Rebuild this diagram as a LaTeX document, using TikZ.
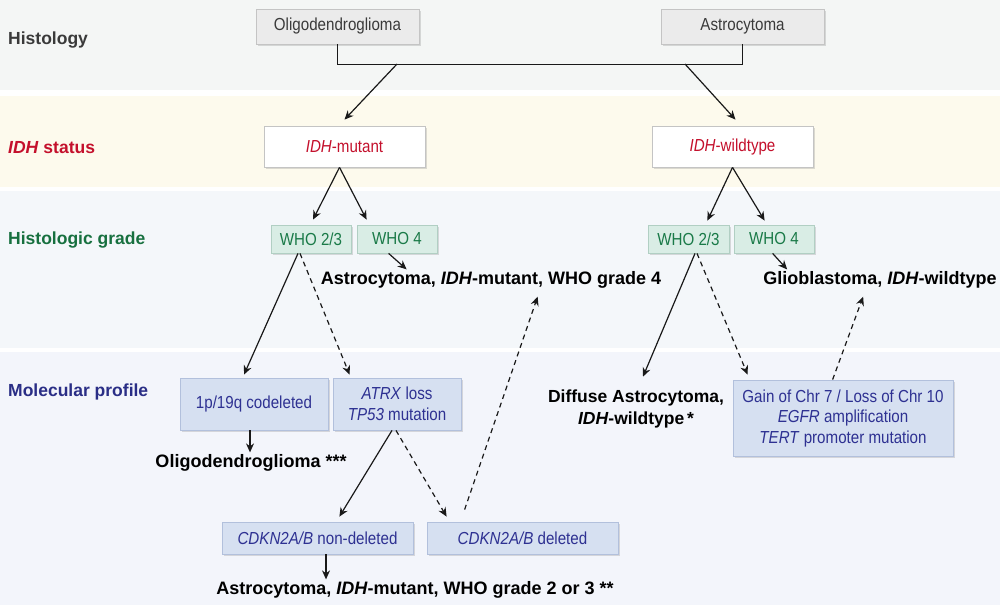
\documentclass[tikz,border=0pt]{standalone}
\usepackage{fontspec}
\setmainfont{Liberation Sans}
\newfontfamily\nfont{Liberation Sans}[FakeStretch=0.87]
\usetikzlibrary{arrows.meta,shadows,calc}
\definecolor{bandA}{HTML}{F4F6F5}
\definecolor{bandB}{HTML}{FDFAED}
\definecolor{bandC}{HTML}{F4F7FA}
\definecolor{bandD}{HTML}{F3F5FB}
\definecolor{lblgray}{HTML}{3A3A3A}
\definecolor{idhred}{HTML}{C4102C}
\definecolor{grgreen}{HTML}{17703F}
\definecolor{molblue}{HTML}{2A2E86}
\definecolor{txtblue}{HTML}{2E3192}
\definecolor{graybox}{HTML}{EBEBEB}
\definecolor{grayedge}{HTML}{C4C4C4}
\definecolor{greenbox}{HTML}{D9EDE5}
\definecolor{greenedge}{HTML}{B1CFC3}
\definecolor{greentxt}{HTML}{1A7A48}
\definecolor{bluebox}{HTML}{D6E0F1}
\definecolor{blueedge}{HTML}{B2C0DC}
\tikzset{
  shad/.style={drop shadow={shadow xshift=1.5pt,shadow yshift=-1.5pt,opacity=0.22,fill=black!60}},
  boxbase/.style={draw, line width=0.8pt, inner sep=0pt, align=center, shad,
    font=\nfont\fontsize{17.4}{20.5}\selectfont},
  histbox/.style={boxbase, fill=graybox, draw=grayedge, text=lblgray, minimum width=163pt, minimum height=35pt},
  idhbox/.style={boxbase, fill=white, draw=grayedge, text=idhred, minimum width=161pt, minimum height=41pt},
  gradebox/.style={boxbase, fill=greenbox, draw=greenedge, text=greentxt, minimum width=80pt, minimum height=28pt},
  molbox/.style={boxbase, fill=bluebox, draw=blueedge, text=txtblue},
  bigtxt/.style={inner sep=0pt, align=center, font=\bfseries\fontsize{18}{22}\selectfont, text=black},
  rowlbl/.style={inner sep=0pt, anchor=west, font=\bfseries\fontsize{17.5}{21}\selectfont},
  arr/.style={line width=1.2pt, draw=black!90, -{Stealth[length=9pt,width=8pt]}},
  darr/.style={arr, dash pattern=on 5pt off 4pt},
  con/.style={line width=1.2pt, draw=black!90}
}
\begin{document}
\begin{tikzpicture}[x=1pt,y=-1pt]
\useasboundingbox (0,0) rectangle (1000,605);
\fill[white] (0,0) rectangle (1000,605);
% bands
\fill[bandA] (0,0) rectangle (1000,90);
\fill[bandB] (0,96) rectangle (1000,187);
\fill[bandC] (0,191) rectangle (1000,348);
\fill[bandD] (0,352) rectangle (1000,605);
% row labels
\node[rowlbl, text=lblgray] (lhist) at (8,40) {Histology};
\node[rowlbl, text=idhred] (lidh) at (8,148) {\textit{IDH} status};
\node[rowlbl, text=grgreen] (lgrade) at (8,240) {Histologic grade};
\node[rowlbl, text=molblue] (lmol) at (8,392) {Molecular profile};
% histology
\node[histbox] (oligo) at (337.5,26.5) {Oligodendroglioma};
\node[histbox] (astro) at (742.5,26.5) {Astrocytoma};
% IDH
\node[idhbox] (mut) at (344.5,146.5) {\textit{IDH}-mutant};
\node[idhbox] (wt) at (732.5,146.5) {\textit{IDH}-wildtype};
% grade
\node[gradebox] (w23l) at (311,239) {WHO 2/3};
\node[gradebox] (w4l) at (397,239) {WHO 4};
\node[gradebox, minimum width=81pt] (w23r) at (688.5,239) {WHO 2/3};
\node[gradebox] (w4r) at (774,239) {WHO 4};
\node[bigtxt] (a4) at (491,280) {Astrocytoma, \textit{IDH}-mutant, WHO grade 4};
\node[bigtxt] (gbm) at (880,280) {Glioblastoma, \textit{IDH}-wildtype};
% molecular
\node[molbox, minimum width=148pt, minimum height=52pt] (p19) at (254,404) {1p/19q codeleted};
\node[molbox, minimum width=128pt, minimum height=52pt] (atrx) at (397,404) {\textit{ATRX} loss\\\textit{TP53} mutation};
\node[bigtxt, font=\bfseries\fontsize{17.5}{22}\selectfont] (dawt) at (636,409) {Diffuse Astrocytoma,\\\textit{IDH}-wildtype\,*};
\node[molbox, minimum width=220pt, minimum height=76pt] (gain) at (843,418) {Gain of Chr 7 / Loss of Chr 10\\\textit{EGFR} amplification\\\textit{TERT} promoter mutation};
\node[bigtxt] (oligt) at (251,463) {Oligodendroglioma ***};
\node[molbox, minimum width=191pt, minimum height=32pt] (cnd) at (317.5,538) {\textit{CDKN2A/B} non-deleted};
\node[molbox, minimum width=191pt, minimum height=32pt] (cd) at (522.5,538) {\textit{CDKN2A/B} deleted};
\node[bigtxt] (a23) at (415,590) {Astrocytoma, \textit{IDH}-mutant, WHO grade 2 or 3 **};
% histology connector
\coordinate (jl) at (397,64);
\coordinate (jr) at (685,64);
\draw[con] (oligo.south) -- ++(0,20) -| (astro.south);
\draw[arr] (jl) -- ([yshift=6pt]mut.north);
\draw[arr] (jr) -- ([xshift=3pt,yshift=6pt]wt.north);
% IDH to grade
\draw[arr] ([xshift=-5pt]mut.south) -- ([xshift=2pt,yshift=5pt]w23l.north);
\draw[arr] ([xshift=-5pt]mut.south) -- ([xshift=10pt,yshift=5pt]w4l.north west);
\draw[arr] (wt.south) -- ([xshift=-22pt,yshift=4pt]w23r.north east);
\draw[arr] (wt.south) -- ([xshift=31pt,yshift=4pt]w4r.north west);
% grade 4 outcomes
\draw[arr] ([xshift=32pt]w4l.south west) -- ([xshift=86pt,yshift=2pt]a4.north west);
\draw[arr] ([xshift=39pt]w4r.south west) -- ([xshift=24pt,yshift=2pt]gbm.north west);
% grade 2/3 to molecular
\draw[arr] ([xshift=-13pt]w23l.south) -- ([xshift=-10pt,yshift=3pt]p19.north);
\draw[darr] ([xshift=-11pt]w23l.south) -- ([xshift=17pt,yshift=3pt]atrx.north west);
\draw[arr] ([xshift=6.5pt]w23r.south) -- ([xshift=7pt,yshift=13pt]dawt.north);
\draw[darr] ([xshift=8.5pt]w23r.south) -- ([xshift=15pt,yshift=5pt]gain.north west);
\draw[darr] ([xshift=100pt]gain.north west) -- ([xshift=100pt,yshift=-8pt]gbm.south west);
% molecular outcomes
\draw[arr] ([xshift=-4pt]p19.south) -- ([yshift=2pt]oligt.north -| {$(p19.south)+(-4,0)$});
\draw[arr] ([xshift=-5pt]atrx.south) -- ([xshift=-74pt,yshift=5pt]cnd.north east);
\draw[darr] ([xshift=-1pt]atrx.south) -- ([xshift=20pt,yshift=5pt]cd.north west);
\draw[darr] ([xshift=38pt,yshift=12pt]cd.north west) -- ([xshift=217pt,yshift=-8pt]a4.south west);
\draw[arr] ([xshift=8.5pt]cnd.south) -- ([yshift=2pt]a23.north -| {$(cnd.south)+(8.5,0)$});
\end{tikzpicture}
\end{document}
